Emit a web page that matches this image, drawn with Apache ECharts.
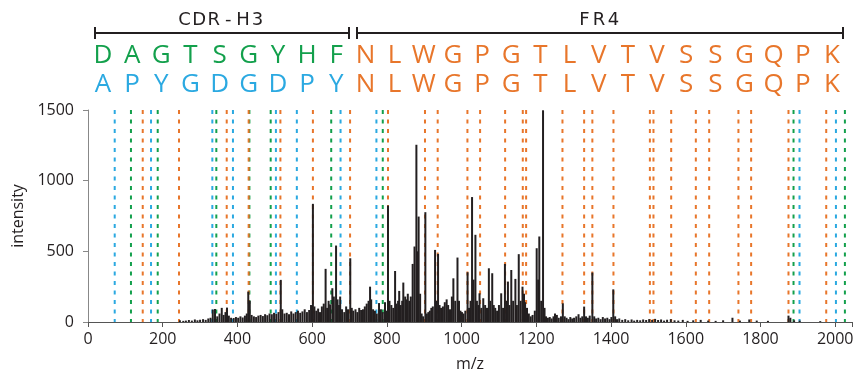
<!DOCTYPE html>
<html><head><meta charset="utf-8">
<script src="https://cdn.jsdelivr.net/npm/echarts@6/dist/echarts.min.js"></script>
<style>html,body{margin:0;padding:0;background:#fff}#c{width:856px;height:375px}</style>
</head><body><div id="c"></div>
<script>
// ---- data ----
const seqTop    = ['D','A','G','T','S','G','Y','H','F','N','L','W','G','P','G','T','L','V','T','V','S','S','G','Q','P','K'];
const seqBottom = ['A','P','Y','G','D','G','D','P','Y','N','L','W','G','P','G','T','L','V','T','V','S','S','G','Q','P','K'];
const cdrLength = 9;
const regionLabels = ['CDR-H3', 'FR4'];

const blueLines   = [71.5, 168.7, 332.8, 388, 503, 559, 676, 772, 1904.5, 2002];
const greenLines  = [115, 186.6, 343.5, 432, 489, 651, 789, 1888.5, 2026];
const orangeLines = [146.5, 243.6, 371.3, 430, 515, 602, 701.5, 803, 902, 936, 1015.6, 1049.5, 1116.5, 1163.8, 1172.7,
                     1270, 1328, 1350, 1406.5, 1504, 1513.6, 1561, 1627, 1662.7, 1741, 1775, 1875, 1976];

const spectrumMz = [246,255,262,270,278,286,293,300,308,315,322,328,334,340,346,352,358,363,368,372,377,383,390,396,402,408,414,420,425,429,433,438,444,450,456,462,468,474,480,486,492,498,504,510,516,520,526,532,538,544,550,556,562,568,574,580,586,592,597,602,606,611,616,621,626,631,636,640,644,648,654,658,664,668,672,675,680,686,691,696,702,706,710,716,721,726,731,736,741,746,751,755,758,763,768,773,779,784,789,795,799,803,807,812,817,822,826,830,833,837,841,844,849,853,856,860,864,869,874,879,882,885,889,893,897,903,907,911,915,919,923,929,933,937,941,945,950,955,960,964,969,974,978,983,989,993,997,1001,1005,1010,1016,1020,1024,1028,1032,1037,1041,1045,1048,1053,1058,1063,1068,1073,1077,1082,1086,1090,1095,1100,1106,1111,1116,1120,1124,1128,1133,1138,1144,1148,1153,1158,1163,1167,1170,1175,1180,1185,1190,1196,1201,1205,1208,1213,1218,1222,1226,1231,1236,1241,1246,1250,1255,1260,1266,1271,1276,1281,1286,1291,1296,1301,1307,1313,1318,1323,1328,1333,1338,1343,1350,1355,1360,1366,1372,1378,1384,1390,1396,1401,1406,1411,1416,1422,1430,1438,1446,1455,1462,1470,1478,1486,1494,1502,1510,1518,1526,1534,1542,1550,1560,1570,1580,1592,1605,1620,1640,1660,1680,1700,1725,1745,1770,1790,1820,1875,1880,1890,1905,1960];
const spectrumIntensity = [12,8,10,14,10,18,12,16,20,15,25,30,88,92,40,60,100,50,70,102,45,30,28,35,30,40,32,45,60,215,150,50,40,35,45,50,42,55,48,60,55,65,58,70,298,90,60,65,55,75,60,70,80,65,75,90,70,85,120,836,110,80,95,70,110,130,376,100,150,125,239,180,541,160,120,180,90,70,110,90,451,100,80,90,70,100,85,90,110,130,150,250,160,90,80,60,134,90,70,140,80,824,150,120,100,361,130,150,220,120,150,279,180,160,200,150,180,411,534,1254,500,746,200,60,40,777,60,70,80,100,110,510,150,482,120,100,110,140,160,120,90,180,309,150,456,150,80,70,60,80,352,100,150,884,300,617,150,120,203,100,168,120,100,380,150,345,120,100,80,120,203,100,411,150,286,120,368,150,305,120,480,150,250,200,140,100,60,40,50,80,522,300,605,150,1498,100,40,30,35,25,40,60,50,30,40,132,40,30,20,35,25,30,40,55,30,40,109,40,30,45,350,40,25,30,20,35,25,30,20,35,231,40,20,25,15,20,12,18,10,15,12,18,14,20,15,22,14,18,10,16,20,12,10,15,8,12,15,10,8,12,30,10,18,10,8,45,30,12,10,6];

// ---- colours & layout ----
const C_GREEN = '#13a04c', C_BLUE = '#2ba9e1', C_ORANGE = '#e8762b', C_INK = '#231f20';
const FONT = "'Open Sans', sans-serif";

function dashedSeries(xs, color, z) {
  const data = [];
  xs.forEach(x => { data.push([x, 1500]); data.push([x, 0]); data.push([x, '-']); });
  return {type: 'line', data, symbol: 'none', silent: true, z, connectNulls: false,
          lineStyle: {color, width: 2, type: [4, 5.5]}, animation: false};
}

const graphics = [];
const letterX0 = 103, letterStep = 29.16;
seqTop.forEach((ch, i) => {
  graphics.push({type: 'text', x: letterX0 + i * letterStep, y: 56, silent: true,
    style: {text: ch, fill: i < cdrLength ? C_GREEN : C_ORANGE, font: "26px 'Open Sans', sans-serif", align: 'center', verticalAlign: 'middle'}});
});
seqBottom.forEach((ch, i) => {
  graphics.push({type: 'text', x: letterX0 + i * letterStep, y: 84.5, silent: true,
    style: {text: ch, fill: i < cdrLength ? C_BLUE : C_ORANGE, font: "26px 'Open Sans', sans-serif", align: 'center', verticalAlign: 'middle'}});
});
const brackets = [[95, 349, 221], [357, 843, 599]];
brackets.forEach((b, k) => {
  graphics.push({type: 'line', silent: true, shape: {x1: b[0], y1: 33, x2: b[1], y2: 33}, style: {stroke: C_INK, lineWidth: 2}});
  graphics.push({type: 'line', silent: true, shape: {x1: b[0], y1: 27, x2: b[0], y2: 39}, style: {stroke: C_INK, lineWidth: 2}});
  graphics.push({type: 'line', silent: true, shape: {x1: b[1], y1: 27, x2: b[1], y2: 39}, style: {stroke: C_INK, lineWidth: 2}});
  const label = regionLabels[k];
  const n = label.length;
  for (let j = 0; j < n; j++) {
    graphics.push({type: 'text', silent: true, x: b[2] + (j - (n - 1) / 2) * 14.6, y: 20,
      style: {text: label[j], fill: C_INK, font: "18px 'DejaVu Sans', sans-serif", align: 'center', verticalAlign: 'middle'}});
  }
});

const chart = echarts.init(document.getElementById('c'), null, {renderer: 'canvas'});
chart.setOption({
  animation: false,
  backgroundColor: '#fff',
  grid: {left: 88, right: 4, top: 110, bottom: 53, containLabel: false, outerBoundsMode: 'none'},
  xAxis: {
    type: 'value', min: 0, max: 2045, interval: 200,
    name: 'm/z', nameLocation: 'middle', nameGap: 34,
    nameTextStyle: {fontFamily: FONT, fontSize: 16, color: C_INK},
    axisLine: {show: true, lineStyle: {color: '#555', width: 1}},
    axisTick: {show: true, inside: false, length: 5, lineStyle: {color: '#555'}},
    axisLabel: {fontFamily: FONT, fontSize: 16, color: C_INK, margin: 9,
      formatter: v => (v % 200 === 0 ? String(v) : '')},
    splitLine: {show: false}
  },
  yAxis: {
    type: 'value', min: 0, max: 1500, interval: 500,
    name: 'intensity', nameLocation: 'middle', nameGap: 62, nameRotate: 90,
    nameTextStyle: {fontFamily: FONT, fontSize: 16, color: C_INK},
    axisLine: {show: true, lineStyle: {color: '#888', width: 1}},
    axisTick: {show: true, inside: false, length: 5, lineStyle: {color: '#888'}},
    axisLabel: {fontFamily: FONT, fontSize: 16, color: C_INK, margin: 14, formatter: v => String(v)},
    splitLine: {show: false}
  },
  graphic: graphics,
  series: [
    dashedSeries(blueLines, C_BLUE, 1),
    dashedSeries(greenLines, C_GREEN, 2),
    dashedSeries(orangeLines, C_ORANGE, 3),
    {
      type: 'bar', z: 5, silent: true, barWidth: 2, large: false,
      data: spectrumMz.map((m, i) => [m, spectrumIntensity[i]]),
      itemStyle: {color: C_INK}
    }
  ]
});
</script>
</body></html>
